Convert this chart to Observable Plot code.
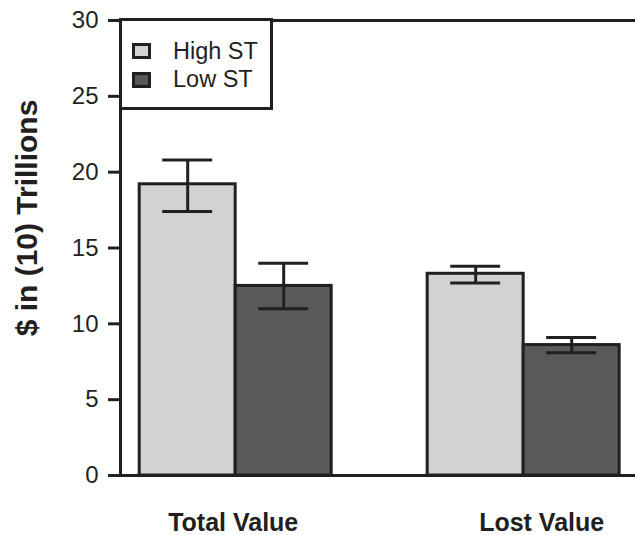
<!DOCTYPE html>
<html><head><meta charset="utf-8">
<script src="https://cdn.jsdelivr.net/npm/d3@7"></script>
<script src="https://cdn.jsdelivr.net/npm/@observablehq/plot@0.6"></script>
<style>
body{margin:0;background:#fff;}
#wrap{position:relative;width:635px;height:535px;}
#legend{position:absolute;left:118.5px;top:18px;width:154px;height:92px;border:3px solid #231f20;box-sizing:border-box;background:#fff;font-family:"Liberation Sans",Arial,sans-serif;font-size:23.5px;color:#231f20;}
.sw{position:absolute;left:10px;width:19px;height:16px;border:3px solid #231f20;box-sizing:border-box;}
.lb{position:absolute;left:51.5px;line-height:1;white-space:nowrap;}
</style>
</head><body>
<div id="wrap"><div id="chart"></div><div id="legend"></div></div>
<script>
const categories = ["Total Value", "Lost Value"];
const series = ["High ST", "Low ST"];
const highValues = [19.2, 13.3];
const lowValues = [12.5, 8.6];
const highErrTop = [20.8, 13.8];
const highErrBottom = [17.4, 12.7];
const lowErrTop = [14.0, 9.1];
const lowErrBottom = [11.0, 8.1];
const yTicks = [0, 5, 10, 15, 20, 25, 30];
const fills = ["#d1d2d4", "#58595b"];
const ink = "#231f20";

const vals = [highValues, lowValues];
const tops = [highErrTop, lowErrTop];
const bottoms = [highErrBottom, lowErrBottom];
const rows = [];
categories.forEach((c, ci) => series.forEach((s, si) => {
  rows.push({category: c, series: s, pos: ci * (series.length + 1) + si,
    value: vals[si][ci], hi: tops[si][ci], lo: bottoms[si][ci]});
}));
const labelRows = categories.map((c, ci) => ({category: c, pos: ci * (series.length + 1) + (series.length - 1) / 2}));
const xDomain = [-0.7, 4.665];
const capHalf = 0.26;
const font = '"Liberation Sans", Arial, sans-serif';

const plot = Plot.plot({
  width: 635, height: 535,
  marginLeft: 120, marginRight: 0, marginTop: 20, marginBottom: 60,
  x: {type: "linear", domain: xDomain, axis: null},
  y: {domain: [0, 30], axis: null},
  color: {domain: series, range: fills},
  style: {fontFamily: font, background: "white", color: ink},
  marks: [
    Plot.rectY(rows, {x1: d => d.pos - 0.5, x2: d => d.pos + 0.5, y: "value", fill: "series", stroke: ink, strokeWidth: 3}),
    Plot.ruleX(rows, {x: "pos", y1: "lo", y2: "hi", stroke: ink, strokeWidth: 3}),
    Plot.ruleY(rows, {y: "hi", x1: d => d.pos - capHalf, x2: d => d.pos + capHalf, stroke: ink, strokeWidth: 3}),
    Plot.ruleY(rows, {y: "lo", x1: d => d.pos - capHalf, x2: d => d.pos + capHalf, stroke: ink, strokeWidth: 3}),
    Plot.ruleY([yTicks[0], yTicks[yTicks.length - 1]], {stroke: ink, strokeWidth: 3}),
    Plot.ruleX([xDomain[0]], {stroke: ink, strokeWidth: 3}),
    Plot.axisY({ticks: yTicks, tickSize: 12, tickPadding: 10, fontSize: 24, stroke: ink, strokeWidth: 3, fill: ink, label: null}),
    Plot.text(["$ in (10) Trillions"], {frameAnchor: "left", rotate: -90, dx: -93, dy: -30, fontSize: 30, fontWeight: "bold", textAnchor: "middle", lineAnchor: "middle", fill: ink}),
    Plot.text(labelRows.slice(0, 1), {x: "pos", text: "category", frameAnchor: "bottom", dy: 55, dx: -2.5, lineAnchor: "bottom", fontSize: 25, fontWeight: "bold", fill: ink}),
    Plot.text(labelRows.slice(1), {x: "pos", text: "category", frameAnchor: "bottom", dy: 55, dx: 18, lineAnchor: "bottom", fontSize: 25, fontWeight: "bold", fill: ink})
  ]
});
document.getElementById("chart").appendChild(plot);

const legend = document.getElementById("legend");
series.forEach((s, i) => {
  const sw = document.createElement("div");
  sw.className = "sw";
  sw.style.top = (22.3 + i * 28.4) + "px";
  sw.style.background = fills[i];
  legend.appendChild(sw);
  const lb = document.createElement("div");
  lb.className = "lb";
  lb.style.top = (19.1 + i * 28) + "px";
  lb.textContent = s;
  legend.appendChild(lb);
});
</script>
</body></html>
